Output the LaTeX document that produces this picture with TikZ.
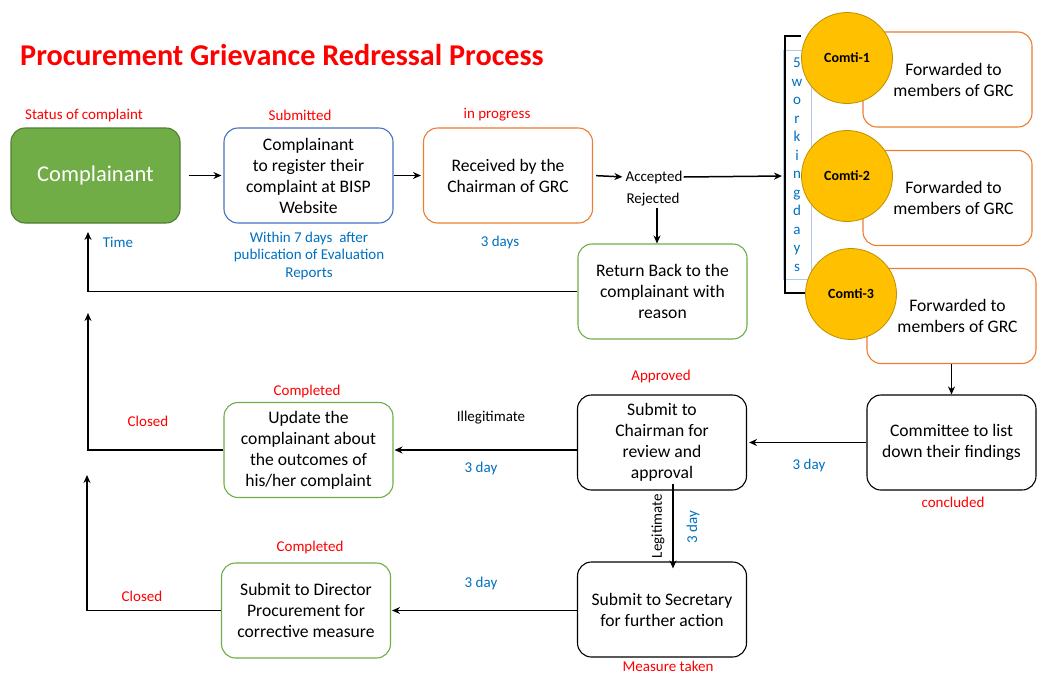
\documentclass[tikz,border=0pt]{standalone}
\usepackage{fontspec}
\setmainfont{Carlito}
\usetikzlibrary{arrows.meta,calc}
\definecolor{cred}{HTML}{FF0000}
\definecolor{cblue}{HTML}{0070C0}
\definecolor{cgreen}{HTML}{70AD47}
\definecolor{cdgreen}{HTML}{507E32}
\definecolor{corange}{HTML}{ED7D31}
\definecolor{cbbox}{HTML}{4472C4}
\definecolor{cgold}{HTML}{FFC000}
\definecolor{cdgold}{HTML}{BF9000}
\definecolor{clblue}{HTML}{B4C7E7}
\tikzset{
  box/.style={rectangle, rounded corners=14, minimum width=169, minimum height=95, align=center, line width=1.1pt, fill=white, font=\fontsize{17.6}{21}\selectfont, inner sep=2pt},
  lab/.style={font=\fontsize{15}{18}\selectfont, inner sep=1pt},
  redlab/.style={lab, text=cred},
  bluelab/.style={lab, text=cblue, align=center},
  arr/.style={line width=1.5pt, -{Stealth[length=8pt,width=7pt]}},
  ln/.style={line width=1.5pt},
  comti/.style={circle, fill=cgold, draw=cdgold, line width=0.8pt, minimum size=91, inner sep=0pt, font=\fontsize{14}{16}\selectfont\bfseries}
}
\begin{document}
\begin{tikzpicture}[x=1pt,y=-1pt]
\useasboundingbox (0,0) rectangle (1052,675);
% title
\node[font=\fontsize{30.2}{34}\selectfont\bfseries, text=cred] (title) at (282,55) {Procurement Grievance Redressal Process};
% top row
\node[redlab] (st) at (84,115) {Status of complaint};
\node[box, fill=cgreen, draw=cdgreen, text=white, font=\fontsize{22.5}{26}\selectfont] (comp) at (95.5,175.5) {\raisebox{-2pt}{Complainant}};
\node[redlab] (sub) at (300,115) {Submitted};
\node[box, draw=cbbox] (reg) at (308.5,175.5) {Complainant\\to register their\\complaint at BISP\\Website};
\node[redlab] (inp) at (497,115) {in progress};
\node[box, draw=corange] (rec) at (508,175.5) {Received by the\\Chairman of GRC};
\node[bluelab] (days3) at (500,242) {3 days};
\node[bluelab, font=\fontsize{15}{17.5}\selectfont] (w7) at (309,255.5) {Within 7 days\ \ after\\publication of Evaluation\\Reports};
\node[bluelab] (time) at (118,242) {Time};
\node[lab] (acc) at (654,177) {Accepted};
\node[lab] (rej) at (653,200) {Rejected};
\node[box, draw=cgreen] (ret) at (662.5,291.5) {Return Back to the\\complainant with\\reason};
% arrows top row
\draw[arr, shorten <=8pt, shorten >=2pt] (comp.east) -- (reg.west);
\draw[arr, shorten >=2pt] (reg.east) -- (rec.west);
\draw[arr, shorten <=3pt, shorten >=2pt] (rec.east) -- (acc.west);
\coordinate (brk) at (782,176);
\draw[arr] (acc.east) -- (brk);
\draw[arr] ([xshift=4]rej.south) -- ([xshift=4]rej.south |- ret.north);
\coordinate (t1) at (88,232);
\draw[arr] (ret.west) -| (t1);
% bracket and vertical text
\node[draw=clblue, line width=0.6pt, minimum width=28, minimum height=229, inner sep=0pt, text=cblue, align=center, font=\fontsize{15}{18.5}\selectfont] (wd) at (797,164.5) {5\\w\\o\\r\\k\\i\\n\\g\\d\\a\\y\\s};
\coordinate (b1) at (801,36);
\coordinate (b2) at (785,36);
\coordinate (b3) at (785,293);
\coordinate (b4) at (805,293);
\draw[ln] (b1) -- (b2) -- (b3) -- (b4);
% committee boxes
\node[box, draw=corange] (f1) at (947.5,79.5) {\hspace*{12pt}Forwarded to\\\hspace*{12pt}members of GRC};
\node[box, draw=corange] (f2) at (947.5,198) {\hspace*{12pt}Forwarded to\\\hspace*{12pt}members of GRC};
\node[box, draw=corange] (f3) at (951.5,316) {\hspace*{12pt}Forwarded to\\\hspace*{12pt}members of GRC};
\node[comti] (c1) at (847,58) {Comti-1};
\node[comti] (c2) at (847,176) {Comti-2};
\node[comti] (c3) at (851,294) {Comti-3};
% middle row
\node[box, draw=black] (com) at (951.5,442.5) {Committee to list\\down their findings};
\node[redlab] (conc) at (953,502) {concluded};
\draw[arr] (f3.south) -- (com.north);
\node[box, draw=black] (chair) at (662,442.5) {Submit to\\Chairman for\\review and\\approval};
\node[redlab] (appr) at (661,376) {Approved};
\draw[arr, shorten >=2pt] (com.west) -- (chair.east);
\node[bluelab] (d3a) at (809,465) {3 day};
\node[box, draw=cgreen] (upd) at (308.5,450) {Update the\\complainant about\\the outcomes of\\his/her complaint};
\node[redlab] (comp1) at (307,391) {Completed};
\draw[arr, shorten >=1pt] (upd.east -| chair.west) -- (upd.east);
\node[lab] (ill) at (491,418) {Illegitimate};
\node[bluelab] (d3b) at (481,468) {3 day};
\coordinate (t2) at (88,313);
\draw[arr] (upd.west) -| (t2);
\node[redlab] (cl1) at (148,421) {Closed};
% bottom row
\node[box, draw=black] (sec) at (662,609.5) {Submit to Secretary\\for further action};
\node[redlab] (meas) at (668,666) {Measure taken};
\draw[arr] ($(chair.south)+(11,-7)$) -- ($(sec.north)+(11,7)$);
\node[lab, rotate=90] (leg) at (658,526) {Legitimate};
\node[bluelab, rotate=90] (d3c) at (693,527) {3 day};
\node[box, draw=cgreen] (dir) at (306,610.5) {Submit to Director\\Procurement for\\corrective measure};
\node[redlab] (comp2) at (310,547) {Completed};
\draw[arr, shorten >=1pt] (dir.east -| sec.west) -- (dir.east);
\node[bluelab] (d3d) at (481,583) {3 day};
\coordinate (t3) at (87,475);
\draw[arr] (dir.west) -| (t3);
\node[redlab] (cl2) at (142,596) {Closed};
\end{tikzpicture}
\end{document}
